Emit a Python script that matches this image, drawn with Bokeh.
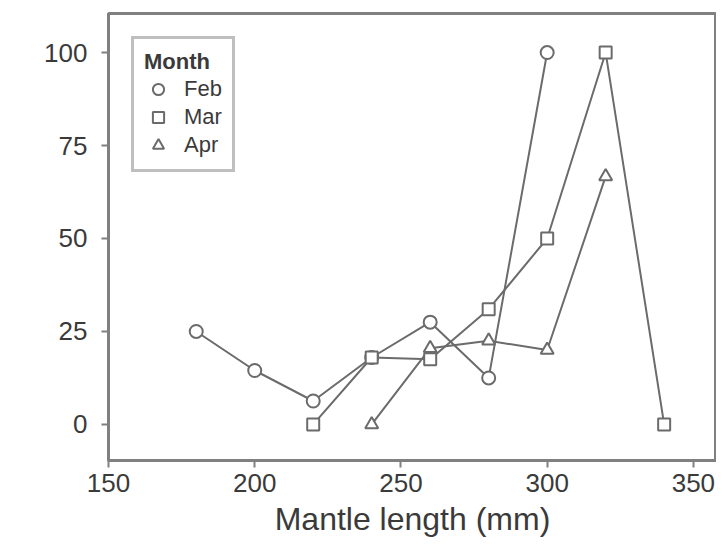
from bokeh.plotting import figure
from bokeh.models import Range1d, FixedTicker, Legend, LegendItem
from bokeh.embed import file_html
from bokeh.resources import INLINE

# Data (mantle length in mm, percentage)
feb_x = [180, 200, 220, 240, 260, 280, 300]
feb_y = [25, 14.5, 6.3, 18, 27.5, 12.5, 100]
mar_x = [220, 240, 260, 280, 300, 320, 340]
mar_y = [0, 18, 17.5, 31, 50, 100, 0]
apr_x = [240, 260, 280, 300, 320]
apr_y = [0, 20.5, 22.5, 20, 66.7]
x_ticks = [150, 200, 250, 300, 350]
y_ticks = [0, 25, 50, 75, 100]

LINE = "#6b6b6b"
AX = "#808080"
TXT = "#3a3a3a"
FONT = "Liberation Sans"

p = figure(width=716, height=539, frame_width=608, frame_height=447,
           output_backend="svg", toolbar_location=None,
           x_range=Range1d(150, 357.9), y_range=Range1d(-9.7, 110.5),
           min_border_left=108, min_border_right=0, min_border_top=13,
           min_border_bottom=79)
p.background_fill_color = "white"
p.border_fill_color = "white"
p.xgrid.visible = False
p.ygrid.visible = False
p.outline_line_color = AX
p.outline_line_width = 3

for ax in (p.xaxis[0], p.yaxis[0]):
    ax.axis_line_color = AX
    ax.axis_line_width = 3
    ax.major_tick_line_color = AX
    ax.major_tick_line_width = 2
    ax.major_tick_out = 7
    ax.major_tick_in = 0
    ax.minor_tick_line_color = None
    ax.major_label_text_color = TXT
    ax.major_label_text_font = FONT
    ax.major_label_text_font_size = "26px"

p.xaxis.ticker = FixedTicker(ticks=x_ticks)
p.yaxis.ticker = FixedTicker(ticks=y_ticks)
p.xaxis.major_label_standoff = 6
p.yaxis.major_label_standoff = 14
p.xaxis.axis_label = "Mantle length (mm)"
p.xaxis.axis_label_text_font = FONT
p.xaxis.axis_label_text_font_size = "32px"
p.xaxis.axis_label_text_font_style = "normal"
p.xaxis.axis_label_text_color = TXT
p.xaxis.axis_label_standoff = 6

p.line(feb_x, feb_y, line_color=LINE, line_width=2)
p.line(mar_x, mar_y, line_color=LINE, line_width=2)
p.line(apr_x, apr_y, line_color=LINE, line_width=2)

r_feb = p.scatter(feb_x, feb_y, marker="circle", size=13, fill_color="white",
                  line_color=LINE, line_width=2)
r_mar = p.scatter(mar_x, mar_y, marker="square", size=12, fill_color="white",
                  line_color=LINE, line_width=2)
r_apr = p.scatter(apr_x, apr_y, marker="triangle", size=13, fill_color="white",
                  line_color=LINE, line_width=2)

legend = Legend(items=[LegendItem(label="Feb", renderers=[r_feb]),
                       LegendItem(label="Mar", renderers=[r_mar]),
                       LegendItem(label="Apr", renderers=[r_apr])],
                location="top_left", title="Month")
legend.margin = 23
legend.padding = 10
legend.spacing = 0
legend.label_height = 28
legend.glyph_height = 28
legend.glyph_width = 28
legend.label_standoff = 12
legend.label_text_font = FONT
legend.label_text_font_size = "22px"
legend.label_text_color = TXT
legend.title_text_font = FONT
legend.title_text_font_size = "22px"
legend.title_text_font_style = "bold"
legend.title_text_color = TXT
legend.title_standoff = 0
legend.border_line_color = AX
legend.border_line_width = 3
legend.background_fill_color = "white"
legend.background_fill_alpha = 1
p.add_layout(legend)

open("out.html", "w").write(file_html(p, INLINE))
